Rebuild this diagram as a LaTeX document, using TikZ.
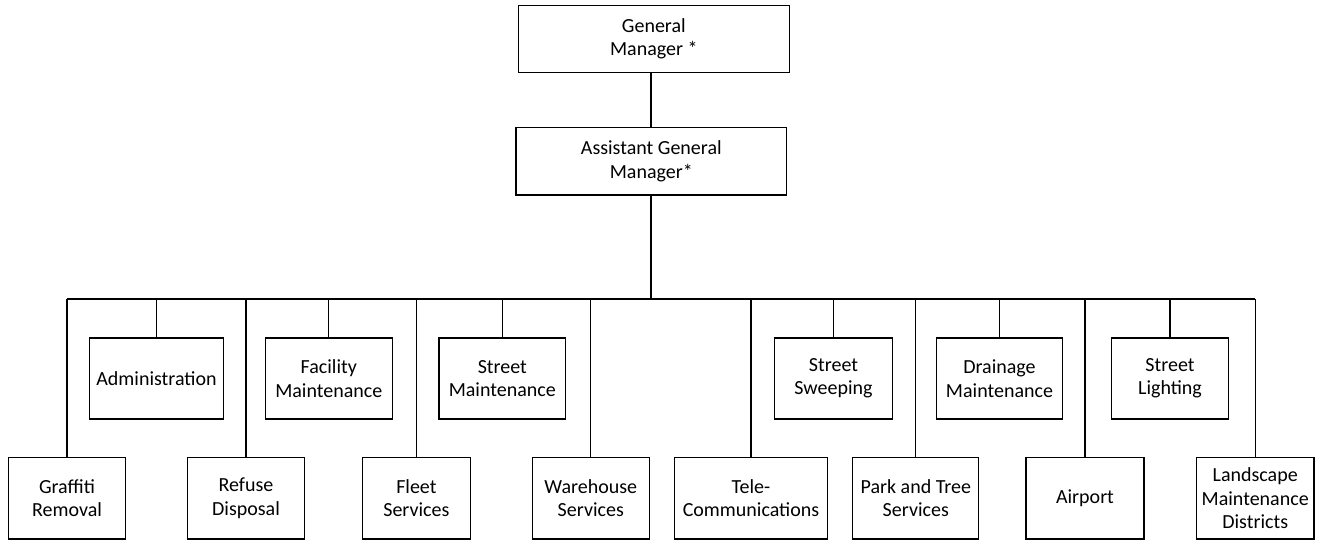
\documentclass[tikz,border=0pt]{standalone}
\usepackage{fontspec}
\setmainfont{Carlito}
\begin{document}
\begin{tikzpicture}[x=1pt,y=-1pt,
  box/.style={draw, line width=1.2pt, fill=white, align=center, inner sep=2pt,
    font=\fontsize{20}{23.4}\selectfont},
  link/.style={line width=1.2pt}]
\useasboundingbox (0,0) rectangle (1319,540);
% top of the chart
\node[box, minimum width=271, minimum height=67.4] (gm) at (653.8,39) {General\\Manager *};
\node[box, minimum width=270.7, minimum height=67.7] (agm) at (651.3,161.2) {Assistant General\\Manager*};
\coordinate (trunk) at (651,0);
\coordinate (bar) at (0,299);
% upper row of divisions
\begin{scope}[every node/.append style={minimum height=81}]
\node[box, minimum width=134] (admin) at (156.5,378.5) {Administration};
\node[box, minimum width=127] (facility) at (328.8,378.5) {Facility\\Maintenance};
\node[box, minimum width=126.7] (stmaint) at (502.3,378.5) {Street\\Maintenance};
\node[box, minimum width=118] (sweep) at (833.5,378.5) {Street\\Sweeping};
\node[box, minimum width=126.6] (drain) at (999.5,378.5) {Drainage\\Maintenance};
\node[box, minimum width=117.7] (light) at (1170,378.5) {Street\\Lighting};
\end{scope}
% lower row of divisions
\begin{scope}[every node/.append style={minimum height=81.5}]
\node[box, minimum width=117.4] (graffiti) at (67,498.25) {Graffiti\\Removal};
\node[box, minimum width=117] (refuse) at (246,498.25) {Refuse\\Disposal};
\node[box, minimum width=108.4] (fleet) at (416.4,498.25) {Fleet\\Services};
\node[box, minimum width=117] (warehouse) at (590.8,498.25) {Warehouse\\Services};
\node[box, minimum width=153] (tele) at (751,498.25) {Tele-\\Communications};
\node[box, minimum width=126] (park) at (915.8,498.25) {Park and Tree\\Services};
\node[box, minimum width=118] (airport) at (1085,498.25) {Airport};
\node[box, minimum width=117.7] (landscape) at (1255.2,498.25) {Landscape\\Maintenance\\Districts};
\end{scope}
% connectors
\draw[link] (gm.south -| trunk) -- (agm.north -| trunk);
\draw[link] (agm.south -| trunk) -- (bar -| trunk);
\draw[link] (graffiti.north |- bar) -- (landscape.north |- bar);
\foreach \n in {admin,facility,stmaint,sweep,drain,light,
                graffiti,refuse,fleet,warehouse,tele,park,airport,landscape}
  \draw[link] (\n.north) -- (\n.north |- bar);
\end{tikzpicture}
\end{document}
